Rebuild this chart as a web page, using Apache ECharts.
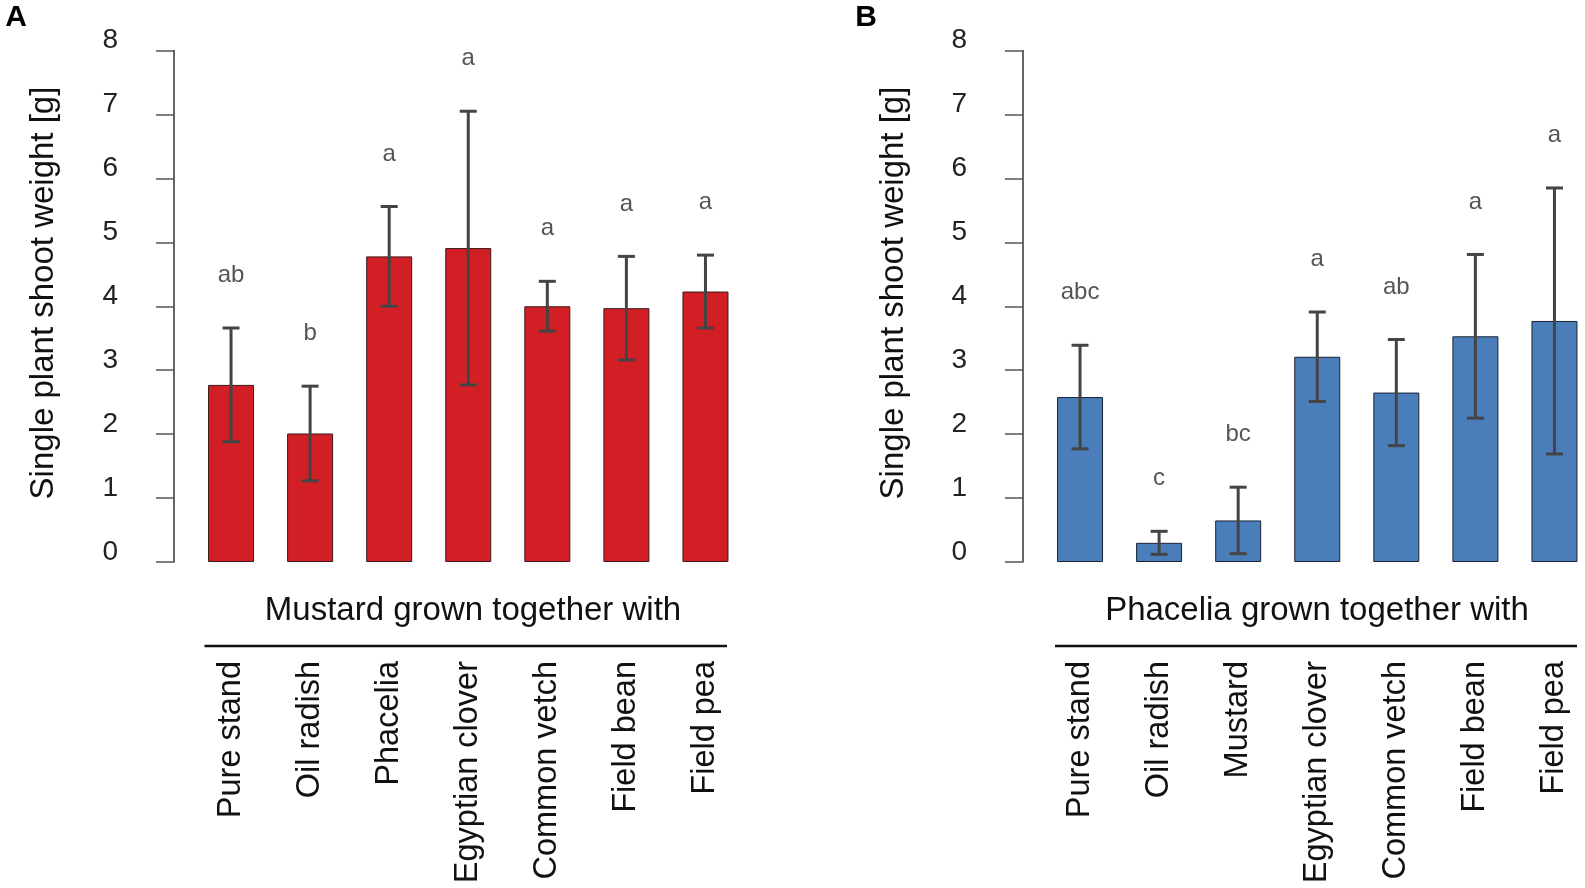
<!DOCTYPE html>
<html>
<head>
<meta charset="utf-8">
<script src="https://cdn.jsdelivr.net/npm/echarts@6/dist/echarts.min.js"></script>
<style>
html,body{margin:0;padding:0;background:#fff;}
#chart{width:1585px;height:888px;}
</style>
</head>
<body>
<div id="chart"></div>
<script>
// ---- data ----
var categoriesA = ['Pure stand','Oil radish','Phacelia','Egyptian clover','Common vetch','Field bean','Field pea'];
var meansA = [2.77, 2.01, 4.78, 4.91, 4.00, 3.97, 4.23];
var errorsA = [0.89, 0.74, 0.78, 2.14, 0.39, 0.81, 0.57];
var lettersA = ['ab','b','a','a','a','a','a'];

var categoriesB = ['Pure stand','Oil radish','Mustard','Egyptian clover','Common vetch','Field bean','Field pea'];
var meansB = [2.58, 0.30, 0.65, 3.21, 2.65, 3.53, 3.77];
var errorsB = [0.81, 0.18, 0.52, 0.70, 0.83, 1.28, 2.08];
var lettersB = ['abc','c','bc','a','ab','a','a'];

var yTicks = [0,1,2,3,4,5,6,7,8];
var yTitle = 'Single plant shoot weight [g]';
var xTitleA = 'Mustard grown together with';
var xTitleB = 'Phacelia grown together with';

// ---- styles ----
var FONT = "'Liberation Sans', Arial, sans-serif";
var RED = '#D21F26';
var BLUE = '#4A7EBA';

var chart = echarts.init(document.getElementById('chart'), null, {renderer:'canvas'});

function yAxisCfg(gi){
  return {
    type:'value', gridIndex:gi, min:yTicks[0], max:yTicks[yTicks.length-1], interval:1,
    offset:17.5,
    axisLine:{show:true, lineStyle:{color:'#333', width:1.5}},
    axisTick:{show:true, inside:false, length:18, lineStyle:{color:'#555', width:1.5}},
    axisLabel:{show:true, margin:56, fontSize:28, color:'#222', fontFamily:FONT,
      verticalAlign:'bottom', lineHeight:20},
    splitLine:{show:false}
  };
}
function xAxisCfg(gi, cats){
  return {
    type:'category', gridIndex:gi, data:cats,
    axisLine:{show:false}, axisTick:{show:false}, splitLine:{show:false},
    axisLabel:{show:true, rotate:90, margin:99, fontSize:32.5, color:'#111', fontFamily:FONT, interval:0}
  };
}
function errSeries(xi, means, errs, letters){
  var data = means.map(function(m,i){ return [i, m, errs[i]]; });
  return {
    type:'custom', xAxisIndex:xi, yAxisIndex:xi, data:data, z:5, silent:true,
    renderItem:function(params, api){
      var i = api.value(0), m = api.value(1), e = api.value(2);
      var hi = api.coord([i, m+e]);
      var lo = api.coord([i, m-e]);
      var cap = 8.5;
      var st = {stroke:'#444', lineWidth:3};
      return {type:'group', children:[
        {type:'line', shape:{x1:hi[0],y1:hi[1],x2:lo[0],y2:lo[1]}, style:st},
        {type:'line', shape:{x1:hi[0]-cap,y1:hi[1],x2:hi[0]+cap,y2:hi[1]}, style:st},
        {type:'line', shape:{x1:lo[0]-cap,y1:lo[1],x2:lo[0]+cap,y2:lo[1]}, style:st},
        {type:'text', x:hi[0], y:hi[1]-52.5, style:{text:letters[params.dataIndex], fontSize:24, fontFamily:FONT,
          fill:'#555', align:'center', verticalAlign:'middle'}}
      ]};
    }
  };
}

var option = {
  animation:false,
  backgroundColor:'#fff',
  grid:[
    {left:191.5, top:50.5, width:553.5, height:511.5, containLabel:false, outerBoundsMode:'none'},
    {left:1040.5, top:50.5, width:553.5, height:511.5, containLabel:false, outerBoundsMode:'none'}
  ],
  xAxis:[xAxisCfg(0, categoriesA), xAxisCfg(1, categoriesB)],
  yAxis:[yAxisCfg(0), yAxisCfg(1)],
  series:[
    {type:'bar', xAxisIndex:0, yAxisIndex:0, data:meansA, barWidth:46,
      itemStyle:{color:RED, borderColor:'#3a1a1a', borderWidth:1}},
    {type:'bar', xAxisIndex:1, yAxisIndex:1, data:meansB, barWidth:46,
      itemStyle:{color:BLUE, borderColor:'#1a2233', borderWidth:1}},
    errSeries(0, meansA, errorsA, lettersA),
    errSeries(1, meansB, errorsB, lettersB)
  ],
  graphic:[
    {type:'text', x:16, y:18, style:{text:'A', fontSize:30, fontWeight:'bold', fontFamily:FONT, fill:'#000', align:'center', verticalAlign:'middle'}},
    {type:'text', x:866, y:18, style:{text:'B', fontSize:30, fontWeight:'bold', fontFamily:FONT, fill:'#000', align:'center', verticalAlign:'middle'}},
    {type:'text', x:44, y:293, rotation:Math.PI/2, style:{text:yTitle, fontSize:33, fontFamily:FONT, fill:'#111', align:'center', verticalAlign:'middle'}},
    {type:'text', x:894, y:293, rotation:Math.PI/2, style:{text:yTitle, fontSize:33, fontFamily:FONT, fill:'#111', align:'center', verticalAlign:'middle'}},
    {type:'text', x:473, y:611, style:{text:xTitleA, fontSize:33, fontFamily:FONT, fill:'#111', align:'center', verticalAlign:'middle'}},
    {type:'text', x:1317, y:611, style:{text:xTitleB, fontSize:33, fontFamily:FONT, fill:'#111', align:'center', verticalAlign:'middle'}},
    {type:'line', shape:{x1:204.5, y1:646, x2:727, y2:646}, style:{stroke:'#111', lineWidth:2.5}},
    {type:'line', shape:{x1:1055, y1:646, x2:1577, y2:646}, style:{stroke:'#111', lineWidth:2.5}}
  ]
};
chart.setOption(option);
</script>
</body>
</html>
